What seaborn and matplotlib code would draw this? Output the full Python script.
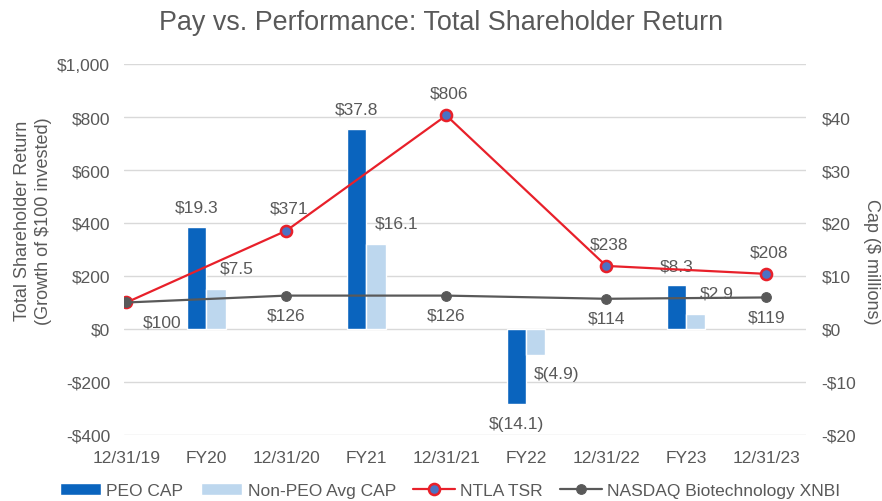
import matplotlib
matplotlib.use("Agg")
import matplotlib.pyplot as plt
import pandas as pd
import seaborn as sns

# Data
categories = ["12/31/19", "FY20", "12/31/20", "FY21", "12/31/21",
              "FY22", "12/31/22", "FY23", "12/31/23"]
fy_labels = ["FY20", "FY21", "FY22", "FY23"]
peo_cap = [19.3, 37.8, -14.1, 8.3]
non_peo_cap = [7.5, 16.1, -4.9, 2.9]
tsr_dates = ["12/31/19", "12/31/20", "12/31/21", "12/31/22", "12/31/23"]
ntla_tsr = [100, 371, 806, 238, 208]
nasdaq_xnbi = [100, 126, 126, 114, 119]

pos = {c: i for i, c in enumerate(categories)}
lines = pd.DataFrame({
    "x": [pos[d] for d in tsr_dates] * 2,
    "value": ntla_tsr + nasdaq_xnbi,
    "series": ["NTLA TSR"] * 5 + ["NASDAQ Biotechnology XNBI"] * 5,
})

sns.set_theme(style="white")
plt.rcParams["font.family"] = ["Liberation Sans", "DejaVu Sans"]
grey = "#595959"
dark_blue = "#0A64BE"
light_blue = "#BDD7EE"
red = "#E8202A"

fig = plt.figure(figsize=(8.82, 5.02), dpi=100)
ax2 = fig.add_axes([0.1406, 0.1315, 0.7734, 0.739])
ax1 = ax2.twinx()
ax1.yaxis.tick_left()
ax1.yaxis.set_label_position("left")
ax2.yaxis.tick_right()
ax2.yaxis.set_label_position("right")
ax1.set_zorder(2)
ax1.patch.set_visible(False)

# Bars (right axis, $ millions)
w = 0.24
fx = [pos[f] for f in fy_labels]
ax2.bar([x - w / 2 for x in fx], peo_cap, width=w, color=dark_blue,
        label="PEO CAP", zorder=2)
ax2.bar([x + w / 2 for x in fx], non_peo_cap, width=w, color=light_blue,
        label="Non-PEO Avg CAP", zorder=2)

def money(v):
    return f"${v:.1f}" if v >= 0 else f"$({abs(v):.1f})"

for x, v in zip(fx, peo_cap):
    ax2.annotate(money(v), (x - w / 2, v), xytext=(0, 14 if v > 0 else -14),
                 textcoords="offset points", ha="center", va="center",
                 fontsize=12.5, color=grey)
for x, v in zip(fx, non_peo_cap):
    ax2.annotate(money(v), (x + w / 2, v), xytext=(15, 15 if v > 0 else -13),
                 textcoords="offset points", ha="center", va="center",
                 fontsize=12.5, color=grey)

# Lines (left axis, TSR)
sns.lineplot(data=lines[lines.series == "NTLA TSR"], x="x", y="value", ax=ax1,
             color=red, linewidth=1.6, marker="o", markersize=8,
             markerfacecolor="#4A72C4", markeredgecolor=red,
             markeredgewidth=1.8, label="NTLA TSR", zorder=3)
sns.lineplot(data=lines[lines.series == "NASDAQ Biotechnology XNBI"], x="x",
             y="value", ax=ax1, color=grey, linewidth=1.6, marker="o",
             markersize=7, markeredgecolor=grey,
             label="NASDAQ Biotechnology XNBI", zorder=4)

for d, v in zip(tsr_dates[1:], ntla_tsr[1:]):
    ax1.annotate(f"${v}", (pos[d], v), xytext=(2, 16), textcoords="offset points",
                 ha="center", va="center", fontsize=12.5, color=grey)
for i, (d, v) in enumerate(zip(tsr_dates, nasdaq_xnbi)):
    ax1.annotate(f"${v}", (pos[d], v), xytext=(26 if i == 0 else 0, -14),
                 textcoords="offset points", ha="center", va="center",
                 fontsize=12.5, color=grey)

# Axes
ax1.set_ylim(-400, 1000)
ax2.set_ylim(-20, 50)
ax1.set_yticks(range(-400, 1001, 200))
ax1.set_yticklabels([f"${v:,}" if v >= 0 else f"-${-v:,}" for v in range(-400, 1001, 200)])
ax2.set_yticks(range(-20, 51, 10))
ax2.set_yticklabels([("" if v == 50 else (f"${v}" if v >= 0 else f"-${-v}"))
                     for v in range(-20, 51, 10)])
for a in (ax1, ax2):
    for s in a.spines.values():
        s.set_visible(False)
    a.tick_params(length=0, labelsize=12.5, colors=grey)
    a.set_xlabel("")
ax1.tick_params(axis="x", labelbottom=False)
ax1.tick_params(axis="y", pad=10)
ax2.tick_params(axis="y", pad=11)
ax2.tick_params(axis="x", pad=11)
ax2.grid(axis="y", color="#D9D9D9", linewidth=1)
ax2.set_axisbelow(True)
ax2.set_xticks(range(len(categories)), categories)
ax2.set_xlim(-0.03, 8.5)
if ax1.get_legend():
    ax1.get_legend().remove()

ax1.set_ylabel("Total Shareholder Return\n(Growth of $100 invested)",
               fontsize=13, color=grey, linespacing=1.3)
ax1.yaxis.set_label_coords(-0.105, 0.58)
ax2.set_ylabel("Cap ($ millions)", fontsize=13, color=grey, rotation=270)
ax2.yaxis.set_label_coords(1.108, 0.47)

fig.suptitle("Pay vs. Performance: Total Shareholder Return", fontsize=19.4,
             color=grey, y=0.98)

h2, l2 = ax2.get_legend_handles_labels()
h1, l1 = ax1.get_legend_handles_labels()
fig.legend(h2 + h1, l2 + l1, loc="lower center", bbox_to_anchor=(0.51, -0.025),
           ncol=4, frameon=False, fontsize=12.5, labelcolor=grey,
           handlelength=2.4, handletextpad=0.3, columnspacing=1.0)

fig.savefig("out.png", dpi=100)
